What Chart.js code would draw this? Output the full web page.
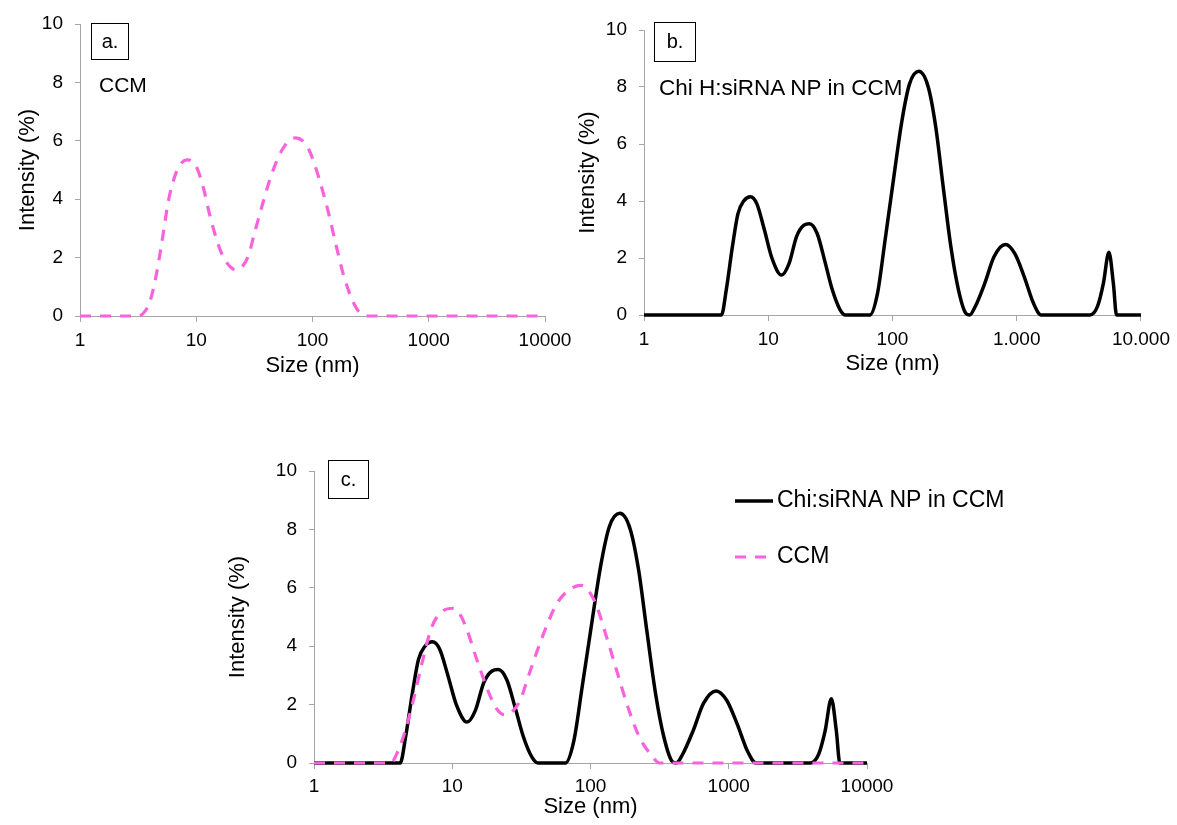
<!DOCTYPE html>
<html>
<head>
<meta charset="utf-8">
<script src="https://cdn.jsdelivr.net/npm/chart.js@4.4.1/dist/chart.umd.min.js"></script>
<style>
  body { margin: 0; background: #fff; width: 1177px; height: 825px; position: relative; overflow: hidden;
         font-family: 'Liberation Sans', Arial, sans-serif; color: #000; }
  canvas, .tag, .note { position: absolute; }
  .tag { border: 1.5px solid #000; box-sizing: border-box; font-size: 20px; text-align: center; }
  .note { white-space: nowrap; }
</style>
</head>
<body>
<canvas id="chartA" width="580" height="390" style="left:0;top:0"></canvas>
<canvas id="chartB" width="605" height="390" style="left:572px;top:0"></canvas>
<canvas id="chartC" width="820" height="405" style="left:200px;top:420px"></canvas>

<div class="tag" style="left:91px;top:23px;width:38px;height:37px;line-height:34px">a.</div>
<div class="note" style="left:99px;top:73px;font-size:21px;line-height:24px">CCM</div>
<div class="tag" style="left:654px;top:22px;width:42px;height:40px;line-height:37px">b.</div>
<div class="note" style="left:659px;top:75px;font-size:22.5px;line-height:25px">Chi H:siRNA NP in CCM</div>
<div class="tag" style="left:328px;top:460px;width:41px;height:39px;line-height:36px">c.</div>

<script>
// x axis (log) ticks
var xTicks = [1, 10, 100, 1000, 10000];
var xLabels = ["1", "10", "100", "1000", "10000"];
var xLabelsB = ["1", "10", "100", "1.000", "10.000"];
var yTicks = [0, 2, 4, 6, 8, 10];

// a. CCM alone
var ccmSizeA = [1, 2, 3.2, 3.6, 4.0, 4.5, 5.0, 5.8, 6.7, 7.5, 8.3, 9.2, 10.2, 11.5, 13, 14.5, 16.5, 18.5, 20.5, 22.5,
                25, 28, 32, 37, 42, 48, 55, 63, 72, 82, 93, 105, 120, 138, 160, 185, 212, 240, 270, 300, 1000, 10000];
var ccmIntA = [0, 0, 0, 0.15, 0.5, 1.35, 2.4, 4.0, 4.9, 5.25, 5.35, 5.3, 5.05, 4.4, 3.5, 2.8, 2.15, 1.8, 1.62, 1.58,
               1.7, 2.05, 2.9, 3.8, 4.55, 5.2, 5.7, 6.0, 6.1, 6.0, 5.7, 5.15, 4.4, 3.5, 2.4, 1.4, 0.7, 0.25, 0.05, 0, 0, 0];

// b. / c. Chi:siRNA NP in CCM
var npSize = [1, 4.2, 4.6, 5.15, 5.7, 6.35, 7.2, 8.1, 9.3, 10.7, 12.8, 14.7, 16.9, 19.4, 21.5, 24.8, 28.5, 32.7, 37.7, 41.8,
              65.8, 75.7, 87, 100, 119, 137, 163, 194, 223, 256, 295, 339, 389, 417, 464, 552, 658, 811, 966, 1148,
              1368, 1574, 3890, 4470, 4980, 5520, 6000, 6360, 10000];
var npInt = [0, 0, 0.9, 2.4, 3.55, 4.0, 4.15, 3.9, 3.0, 2.0, 1.4, 1.8, 2.75, 3.15, 3.2, 2.85, 1.9, 0.9, 0.2, 0,
             0, 0.75, 2.6, 4.5, 6.8, 8.1, 8.55, 8.0, 6.6, 4.5, 2.4, 0.9, 0.06, 0, 0.3, 1.1, 2.05, 2.47, 2.15, 1.35,
             0.4, 0, 0, 0.3, 1.1, 2.2, 1.1, 0, 0];

// c. CCM overlay
var ccmSizeC = [1, 3.6, 4.0, 4.5, 5.2, 6.1, 7.1, 8.5, 10.2, 11.5, 12.8, 15.4, 18.6, 21, 24, 27, 31, 36, 45.5, 57,
                71, 86, 107, 129, 155, 187, 226, 272, 316, 10000];
var ccmIntC = [0, 0, 0.35, 1.0, 2.1, 3.5, 4.65, 5.2, 5.3, 5.05, 4.55, 3.4, 2.35, 1.85, 1.65, 1.75, 2.15, 3.05, 4.4, 5.45,
               5.95, 6.08, 5.55, 4.4, 3.15, 1.9, 0.88, 0.3, 0, 0];

var seriesNames = ["Chi:siRNA NP in CCM", "CCM"];

var pink = "#f862dc";
var axisGrey = "#a6a6a6";
var fontFam = "'Liberation Sans', Arial, sans-serif";

Chart.defaults.font.family = fontFam;
Chart.defaults.color = "#000";

function pts(xs, ys) {
  return xs.map(function(x, i) { return {x: x, y: ys[i]}; });
}

function blackSet(label) {
  return { label: label, data: pts(npSize, npInt), borderColor: "#000", borderWidth: 3.5,
           pointRadius: 0, cubicInterpolationMode: "monotone", clip: false, order: 2 };
}
function pinkSet(label, xs, ys) {
  return { label: label, data: pts(xs, ys), borderColor: pink, borderWidth: 3.2, borderDash: [11, 9],
           pointRadius: 0, cubicInterpolationMode: "monotone", clip: false, order: 1 };
}

// lay out one panel: y axis width, x axis height, title paddings
function makeOptions(o) {
  return {
    responsive: false,
    animation: false,
    events: [],
    layout: { padding: { left: 0, right: o.padRight, top: o.padTop, bottom: 0 } },
    plugins: { legend: { display: false }, tooltip: { enabled: false }, sideLegend: o.legend || false },
    scales: {
      x: {
        type: "logarithmic", min: 1, max: 10000,
        afterBuildTicks: function(axis) { axis.ticks = xTicks.map(function(v) { return {value: v}; }); },
        afterFit: function(s) { s.height = o.xHeight; },
        ticks: { autoSkip: false, maxRotation: 0, padding: o.xTickPad, font: { size: 19 },
                 callback: function(v, i) { return o.xLabels[i]; } },
        grid: { drawOnChartArea: false, color: axisGrey, tickLength: 6 },
        border: { color: axisGrey, width: 1 },
        title: { display: true, text: "Size (nm)", font: { size: 22 }, padding: { top: 0, bottom: o.xTitlePad } }
      },
      y: {
        min: 0, max: 10,
        afterBuildTicks: function(axis) { axis.ticks = yTicks.map(function(v) { return {value: v}; }); },
        afterFit: function(s) { s.width = o.yWidth; },
        ticks: { padding: 12, font: { size: 19 } },
        grid: { drawOnChartArea: false, color: axisGrey, tickLength: 5 },
        border: { color: axisGrey, width: 1 },
        title: { display: true, text: "Intensity (%)", font: { size: 22 }, padding: { top: o.yTitlePad, bottom: 0 } }
      }
    }
  };
}

// legend drawn at the right of panel c
var sideLegend = {
  id: "sideLegend",
  afterDraw: function(chart, args, opts) {
    if (!opts || !opts.left) return;
    var ctx = chart.ctx;
    ctx.save();
    ctx.font = "23px " + fontFam;
    ctx.textBaseline = "middle";
    ctx.fillStyle = "#000";
    chart.data.datasets.forEach(function(ds, i) {
      var y = opts.top + i * opts.gap;
      ctx.strokeStyle = ds.borderColor;
      ctx.lineWidth = ds.borderWidth;
      ctx.setLineDash(ds.borderDash || []);
      ctx.beginPath();
      ctx.moveTo(opts.left, y);
      ctx.lineTo(opts.left + opts.lineLen, y);
      ctx.stroke();
      ctx.setLineDash([]);
      ctx.fillText(ds.label, opts.left + opts.lineLen + 4, y);
    });
    ctx.restore();
  }
};
Chart.register(sideLegend);

new Chart(document.getElementById("chartA"), {
  type: "line",
  data: { datasets: [pinkSet(seriesNames[1], ccmSizeA, ccmIntA)] },
  options: makeOptions({ padRight: 35, padTop: 24, yWidth: 80, xHeight: 74, xTickPad: 7,
                         xTitlePad: 10.8, yTitlePad: 14.8, xLabels: xLabels })
});

new Chart(document.getElementById("chartB"), {
  type: "line",
  data: { datasets: [blackSet(seriesNames[0])] },
  options: makeOptions({ padRight: 32, padTop: 30, yWidth: 72, xHeight: 75, xTickPad: 7,
                         xTitlePad: 12.8, yTitlePad: 2.8, xLabels: xLabelsB })
});

new Chart(document.getElementById("chartC"), {
  type: "line",
  data: { datasets: [blackSet(seriesNames[0]), pinkSet(seriesNames[1], ccmSizeC, ccmIntC)] },
  options: makeOptions({ padRight: 153, padTop: 51, yWidth: 114, xHeight: 62, xTickPad: 6,
                         xTitlePad: 4.8, yTitlePad: 24.8, xLabels: xLabels,
                         legend: { left: 535, top: 81, gap: 56, lineLen: 38 } })
});
</script>
</body>
</html>
